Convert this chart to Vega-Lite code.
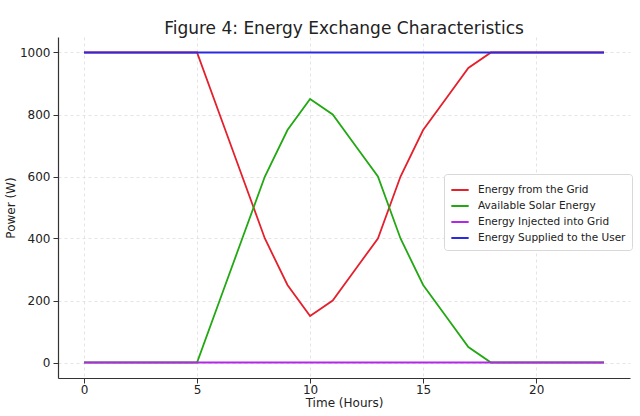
{
  "$schema": "https://vega.github.io/schema/vega-lite/v6.json",
  "autosize": "none",
  "width": 572,
  "height": 341,
  "padding": {"left": 58, "top": 37, "right": 10, "bottom": 38},
  "background": "white",
  "title": {
    "text": "Figure 4: Energy Exchange Characteristics",
    "font": "DejaVu Sans",
    "fontSize": 17,
    "fontWeight": "normal",
    "color": "#222222",
    "anchor": "middle",
    "offset": -1
  },
  "config": {
    "view": {"stroke": null},
    "axis": {
      "labelFont": "DejaVu Sans",
      "titleFont": "DejaVu Sans",
      "labelFontSize": 12,
      "titleFontSize": 12,
      "titleFontWeight": "normal",
      "labelColor": "#222222",
      "titleColor": "#222222",
      "domainColor": "#333333",
      "domainWidth": 1.2,
      "tickColor": "#333333",
      "tickSize": 5,
      "tickWidth": 1,
      "gridColor": "#dddddd",
      "gridDash": [3, 3],
      "gridWidth": 0.8
    },
    "legend": {
      "labelFont": "DejaVu Sans",
      "labelFontSize": 10.5,
      "labelColor": "#222222"
    }
  },
  "data": {
    "values": [
      {"hour": 0, "series": "Energy from the Grid", "power": 1000},
      {"hour": 1, "series": "Energy from the Grid", "power": 1000},
      {"hour": 2, "series": "Energy from the Grid", "power": 1000},
      {"hour": 3, "series": "Energy from the Grid", "power": 1000},
      {"hour": 4, "series": "Energy from the Grid", "power": 1000},
      {"hour": 5, "series": "Energy from the Grid", "power": 1000},
      {"hour": 6, "series": "Energy from the Grid", "power": 800},
      {"hour": 7, "series": "Energy from the Grid", "power": 600},
      {"hour": 8, "series": "Energy from the Grid", "power": 400},
      {"hour": 9, "series": "Energy from the Grid", "power": 250},
      {"hour": 10, "series": "Energy from the Grid", "power": 150},
      {"hour": 11, "series": "Energy from the Grid", "power": 200},
      {"hour": 12, "series": "Energy from the Grid", "power": 300},
      {"hour": 13, "series": "Energy from the Grid", "power": 400},
      {"hour": 14, "series": "Energy from the Grid", "power": 600},
      {"hour": 15, "series": "Energy from the Grid", "power": 750},
      {"hour": 16, "series": "Energy from the Grid", "power": 850},
      {"hour": 17, "series": "Energy from the Grid", "power": 950},
      {"hour": 18, "series": "Energy from the Grid", "power": 1000},
      {"hour": 19, "series": "Energy from the Grid", "power": 1000},
      {"hour": 20, "series": "Energy from the Grid", "power": 1000},
      {"hour": 21, "series": "Energy from the Grid", "power": 1000},
      {"hour": 22, "series": "Energy from the Grid", "power": 1000},
      {"hour": 23, "series": "Energy from the Grid", "power": 1000},
      {"hour": 0, "series": "Available Solar Energy", "power": 0},
      {"hour": 1, "series": "Available Solar Energy", "power": 0},
      {"hour": 2, "series": "Available Solar Energy", "power": 0},
      {"hour": 3, "series": "Available Solar Energy", "power": 0},
      {"hour": 4, "series": "Available Solar Energy", "power": 0},
      {"hour": 5, "series": "Available Solar Energy", "power": 0},
      {"hour": 6, "series": "Available Solar Energy", "power": 200},
      {"hour": 7, "series": "Available Solar Energy", "power": 400},
      {"hour": 8, "series": "Available Solar Energy", "power": 600},
      {"hour": 9, "series": "Available Solar Energy", "power": 750},
      {"hour": 10, "series": "Available Solar Energy", "power": 850},
      {"hour": 11, "series": "Available Solar Energy", "power": 800},
      {"hour": 12, "series": "Available Solar Energy", "power": 700},
      {"hour": 13, "series": "Available Solar Energy", "power": 600},
      {"hour": 14, "series": "Available Solar Energy", "power": 400},
      {"hour": 15, "series": "Available Solar Energy", "power": 250},
      {"hour": 16, "series": "Available Solar Energy", "power": 150},
      {"hour": 17, "series": "Available Solar Energy", "power": 50},
      {"hour": 18, "series": "Available Solar Energy", "power": 0},
      {"hour": 19, "series": "Available Solar Energy", "power": 0},
      {"hour": 20, "series": "Available Solar Energy", "power": 0},
      {"hour": 21, "series": "Available Solar Energy", "power": 0},
      {"hour": 22, "series": "Available Solar Energy", "power": 0},
      {"hour": 23, "series": "Available Solar Energy", "power": 0},
      {"hour": 0, "series": "Energy Injected into Grid", "power": 0},
      {"hour": 1, "series": "Energy Injected into Grid", "power": 0},
      {"hour": 2, "series": "Energy Injected into Grid", "power": 0},
      {"hour": 3, "series": "Energy Injected into Grid", "power": 0},
      {"hour": 4, "series": "Energy Injected into Grid", "power": 0},
      {"hour": 5, "series": "Energy Injected into Grid", "power": 0},
      {"hour": 6, "series": "Energy Injected into Grid", "power": 0},
      {"hour": 7, "series": "Energy Injected into Grid", "power": 0},
      {"hour": 8, "series": "Energy Injected into Grid", "power": 0},
      {"hour": 9, "series": "Energy Injected into Grid", "power": 0},
      {"hour": 10, "series": "Energy Injected into Grid", "power": 0},
      {"hour": 11, "series": "Energy Injected into Grid", "power": 0},
      {"hour": 12, "series": "Energy Injected into Grid", "power": 0},
      {"hour": 13, "series": "Energy Injected into Grid", "power": 0},
      {"hour": 14, "series": "Energy Injected into Grid", "power": 0},
      {"hour": 15, "series": "Energy Injected into Grid", "power": 0},
      {"hour": 16, "series": "Energy Injected into Grid", "power": 0},
      {"hour": 17, "series": "Energy Injected into Grid", "power": 0},
      {"hour": 18, "series": "Energy Injected into Grid", "power": 0},
      {"hour": 19, "series": "Energy Injected into Grid", "power": 0},
      {"hour": 20, "series": "Energy Injected into Grid", "power": 0},
      {"hour": 21, "series": "Energy Injected into Grid", "power": 0},
      {"hour": 22, "series": "Energy Injected into Grid", "power": 0},
      {"hour": 23, "series": "Energy Injected into Grid", "power": 0},
      {"hour": 0, "series": "Energy Supplied to the User", "power": 1000},
      {"hour": 1, "series": "Energy Supplied to the User", "power": 1000},
      {"hour": 2, "series": "Energy Supplied to the User", "power": 1000},
      {"hour": 3, "series": "Energy Supplied to the User", "power": 1000},
      {"hour": 4, "series": "Energy Supplied to the User", "power": 1000},
      {"hour": 5, "series": "Energy Supplied to the User", "power": 1000},
      {"hour": 6, "series": "Energy Supplied to the User", "power": 1000},
      {"hour": 7, "series": "Energy Supplied to the User", "power": 1000},
      {"hour": 8, "series": "Energy Supplied to the User", "power": 1000},
      {"hour": 9, "series": "Energy Supplied to the User", "power": 1000},
      {"hour": 10, "series": "Energy Supplied to the User", "power": 1000},
      {"hour": 11, "series": "Energy Supplied to the User", "power": 1000},
      {"hour": 12, "series": "Energy Supplied to the User", "power": 1000},
      {"hour": 13, "series": "Energy Supplied to the User", "power": 1000},
      {"hour": 14, "series": "Energy Supplied to the User", "power": 1000},
      {"hour": 15, "series": "Energy Supplied to the User", "power": 1000},
      {"hour": 16, "series": "Energy Supplied to the User", "power": 1000},
      {"hour": 17, "series": "Energy Supplied to the User", "power": 1000},
      {"hour": 18, "series": "Energy Supplied to the User", "power": 1000},
      {"hour": 19, "series": "Energy Supplied to the User", "power": 1000},
      {"hour": 20, "series": "Energy Supplied to the User", "power": 1000},
      {"hour": 21, "series": "Energy Supplied to the User", "power": 1000},
      {"hour": 22, "series": "Energy Supplied to the User", "power": 1000},
      {"hour": 23, "series": "Energy Supplied to the User", "power": 1000}
    ]
  },
  "mark": {"type": "line", "strokeWidth": 1.8},
  "encoding": {
    "x": {
      "field": "hour",
      "type": "quantitative",
      "title": "Time (Hours)",
      "scale": {"domain": [-1.15, 24.15], "nice": false, "zero": false},
      "axis": {"values": [0, 5, 10, 15, 20], "titlePadding": 2, "labelPadding": 1}
    },
    "y": {
      "field": "power",
      "type": "quantitative",
      "title": "Power (W)",
      "scale": {"domain": [-50, 1050], "nice": false, "zero": false},
      "axis": {"values": [0, 200, 400, 600, 800, 1000], "format": "d", "titlePadding": 2, "labelPadding": 3}
    },
    "color": {
      "field": "series",
      "type": "nominal",
      "sort": null,
      "scale": {
        "domain": ["Energy from the Grid", "Available Solar Energy", "Energy Injected into Grid", "Energy Supplied to the User"],
        "range": ["#e4202c", "#22a812", "#b328e8", "#2a2ae0"]
      },
      "legend": {
        "title": null,
        "orient": "none",
        "legendX": 386,
        "legendY": 137,
        "symbolType": "stroke",
        "symbolStrokeWidth": 2,
        "symbolSize": 300,
        "rowPadding": -1.5,
        "labelOffset": 8,
        "padding": 6,
        "fillColor": "white",
        "strokeColor": "#d8d8d8",
        "cornerRadius": 3
      }
    },
    "order": {"value": 0}
  }
}
